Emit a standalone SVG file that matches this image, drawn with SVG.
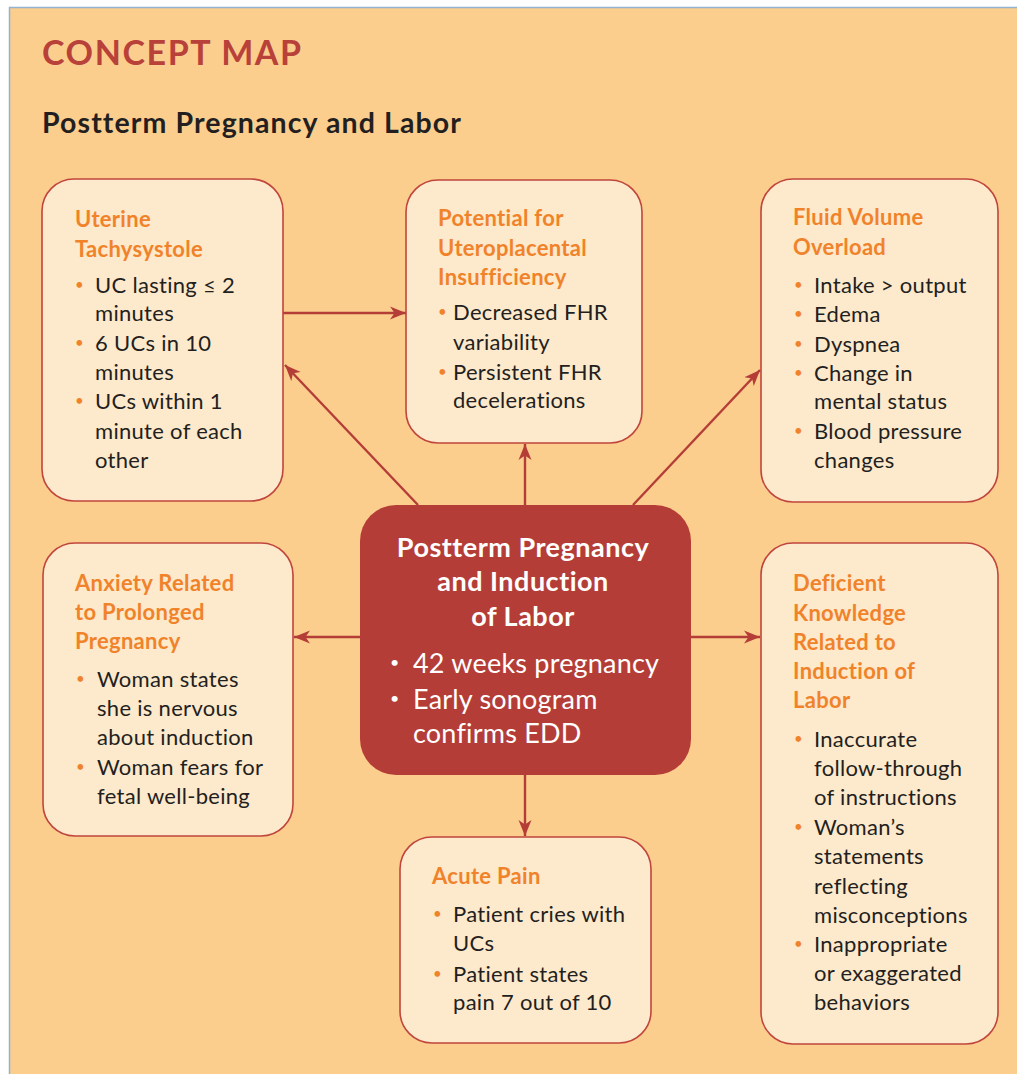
<svg xmlns="http://www.w3.org/2000/svg" width="1017" height="1074" viewBox="0 0 1017 1074">
<style>
.bg{fill:#fbce8e}
.box{fill:#fde9cc;stroke:#c0453d;stroke-width:1.6}
.center{fill:#b53d37}
.h{font-family:Lato,"Open Sans",sans-serif;font-weight:700;font-size:22px;letter-spacing:0.3px;fill:#f0832a}
.t{font-family:Lato,"Open Sans",sans-serif;font-size:22px;letter-spacing:0.3px;fill:#231f20}
.b{font-family:Lato,"Open Sans",sans-serif;font-size:15px;fill:#f0832a}
.ct{font-family:Lato,"Open Sans",sans-serif;font-weight:700;font-size:27px;letter-spacing:0.5px;fill:#ffffff;text-anchor:middle}
.cb{font-family:Lato,"Open Sans",sans-serif;font-size:27px;letter-spacing:0.2px;fill:#ffffff}
.cbd{font-family:Lato,"Open Sans",sans-serif;font-size:16px;fill:#ffffff}
.conn{stroke:#b53d37;stroke-width:2.4;fill:none}
</style>
<defs>
<marker id="ah" markerUnits="userSpaceOnUse" markerWidth="18" markerHeight="14" refX="16" refY="7" orient="auto">
<path d="M0,0.5 L16,7 L0,13.5 L4.5,7 Z" fill="#b53d37"/>
</marker>
</defs>
<rect class="bg" x="9" y="7" width="1020" height="1080"/>
<path d="M9.5,1074 V7.5 H1017" fill="none" stroke="#94b3cf" stroke-width="1.5"/>
<text x="42" y="65" font-family="Lato,'Open Sans',sans-serif" font-weight="700" font-size="34" letter-spacing="1.6" fill="#b8413a">CONCEPT MAP</text>
<text x="42" y="133" font-family="Lato,'Open Sans',sans-serif" font-weight="700" font-size="28.5" letter-spacing="1.1" fill="#231f20">Postterm Pregnancy and Labor</text>

<g id="connectors">
<line class="conn" x1="283" y1="313" x2="406" y2="313" marker-end="url(#ah)"/>
<line class="conn" x1="418" y1="505" x2="285" y2="365" marker-end="url(#ah)"/>
<line class="conn" x1="525" y1="505" x2="525" y2="444" marker-end="url(#ah)"/>
<line class="conn" x1="633" y1="505" x2="760" y2="370" marker-end="url(#ah)"/>
<line class="conn" x1="360" y1="637" x2="294" y2="637" marker-end="url(#ah)"/>
<line class="conn" x1="691" y1="637" x2="760" y2="637" marker-end="url(#ah)"/>
<line class="conn" x1="525" y1="775" x2="525" y2="836" marker-end="url(#ah)"/>
</g>

<g id="uterine-tachysystole">
<rect class="box" x="42" y="179" width="241" height="322" rx="32"/>
<text class="h" x="75" y="227">Uterine</text>
<text class="h" x="75" y="257">Tachysystole</text>
<text class="b" x="75" y="290">•</text>
<text class="t" x="95" y="293">UC lasting ≤ 2</text>
<text class="t" x="95" y="321">minutes</text>
<text class="b" x="75" y="348">•</text>
<text class="t" x="95" y="351">6 UCs in 10</text>
<text class="t" x="95" y="380">minutes</text>
<text class="b" x="75" y="406">•</text>
<text class="t" x="95" y="409">UCs within 1</text>
<text class="t" x="95" y="439">minute of each</text>
<text class="t" x="95" y="468">other</text>
</g>

<g id="uteroplacental-insufficiency">
<rect class="box" x="406" y="180" width="236" height="263" rx="32"/>
<text class="h" x="438" y="226">Potential for</text>
<text class="h" x="438" y="256">Uteroplacental</text>
<text class="h" x="438" y="285">Insufficiency</text>
<text class="b" x="438" y="317">•</text>
<text class="t" x="453" y="320">Decreased FHR</text>
<text class="t" x="453" y="350">variability</text>
<text class="b" x="438" y="377">•</text>
<text class="t" x="453" y="380">Persistent FHR</text>
<text class="t" x="453" y="408">decelerations</text>
</g>

<g id="fluid-volume-overload">
<rect class="box" x="761" y="179" width="237" height="323" rx="32"/>
<text class="h" x="793" y="225">Fluid Volume</text>
<text class="h" x="793" y="255">Overload</text>
<text class="b" x="794" y="290">•</text>
<text class="t" x="814" y="293">Intake &gt; output</text>
<text class="b" x="794" y="319">•</text>
<text class="t" x="814" y="322">Edema</text>
<text class="b" x="794" y="349">•</text>
<text class="t" x="814" y="352">Dyspnea</text>
<text class="b" x="794" y="378">•</text>
<text class="t" x="814" y="381">Change in</text>
<text class="t" x="814" y="409">mental status</text>
<text class="b" x="794" y="436">•</text>
<text class="t" x="814" y="439">Blood pressure</text>
<text class="t" x="814" y="468">changes</text>
</g>

<g id="anxiety">
<rect class="box" x="43" y="543" width="250" height="293" rx="32"/>
<text class="h" x="75" y="591">Anxiety Related</text>
<text class="h" x="75" y="620">to Prolonged</text>
<text class="h" x="75" y="649">Pregnancy</text>
<text class="b" x="76" y="684">•</text>
<text class="t" x="97" y="687">Woman states</text>
<text class="t" x="97" y="716">she is nervous</text>
<text class="t" x="97" y="745">about induction</text>
<text class="b" x="76" y="772">•</text>
<text class="t" x="97" y="775">Woman fears for</text>
<text class="t" x="97" y="804">fetal well-being</text>
</g>

<g id="postterm-center">
<rect class="center" x="360" y="505" width="331" height="270" rx="36"/>
<text class="ct" x="523" y="557">Postterm Pregnancy</text>
<text class="ct" x="523" y="591">and Induction</text>
<text class="ct" x="523" y="626">of Labor</text>
<text class="cbd" x="390" y="668">•</text>
<text class="cb" x="413" y="673">42 weeks pregnancy</text>
<text class="cbd" x="390" y="704">•</text>
<text class="cb" x="413" y="709">Early sonogram</text>
<text class="cb" x="413" y="743">confirms EDD</text>
</g>

<g id="deficient-knowledge">
<rect class="box" x="761" y="543" width="237" height="501" rx="32"/>
<text class="h" x="793" y="591">Deficient</text>
<text class="h" x="793" y="621">Knowledge</text>
<text class="h" x="793" y="650">Related to</text>
<text class="h" x="793" y="679">Induction of</text>
<text class="h" x="793" y="708">Labor</text>
<text class="b" x="794" y="744">•</text>
<text class="t" x="814" y="747">Inaccurate</text>
<text class="t" x="814" y="776">follow-through</text>
<text class="t" x="814" y="805">of instructions</text>
<text class="b" x="794" y="832">•</text>
<text class="t" x="814" y="835">Woman’s</text>
<text class="t" x="814" y="864">statements</text>
<text class="t" x="814" y="894">reflecting</text>
<text class="t" x="814" y="923">misconceptions</text>
<text class="b" x="794" y="949">•</text>
<text class="t" x="814" y="952">Inappropriate</text>
<text class="t" x="814" y="981">or exaggerated</text>
<text class="t" x="814" y="1010">behaviors</text>
</g>

<g id="acute-pain">
<rect class="box" x="400" y="837" width="251" height="206" rx="32"/>
<text class="h" x="432" y="884">Acute Pain</text>
<text class="b" x="433" y="919">•</text>
<text class="t" x="453" y="922">Patient cries with</text>
<text class="t" x="453" y="951">UCs</text>
<text class="b" x="433" y="979">•</text>
<text class="t" x="453" y="982">Patient states</text>
<text class="t" x="453" y="1010">pain 7 out of 10</text>
</g>
</svg>
